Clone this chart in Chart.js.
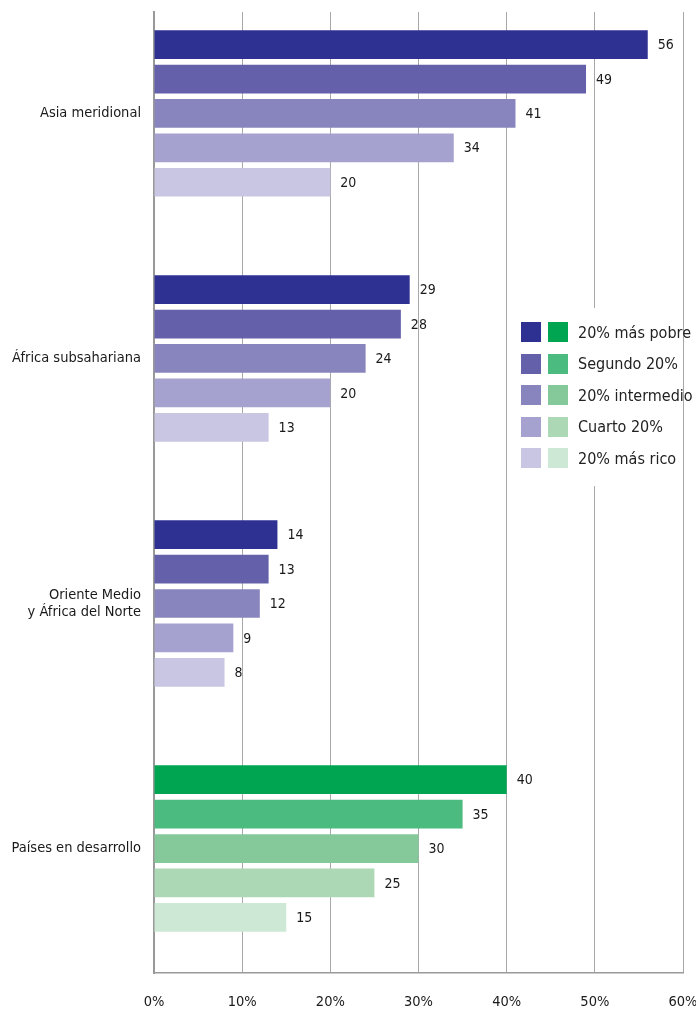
<!DOCTYPE html>
<html>
<head>
<meta charset="utf-8">
<script src="https://cdn.jsdelivr.net/npm/chart.js@4/dist/chart.umd.min.js"></script>
<style>
  body{margin:0;background:#fff;font-family:"Liberation Sans Narrow","DejaVu Sans Condensed",sans-serif;}
  .wrap{position:relative;width:696px;height:1010px;}
  canvas{display:block;}
  .legend{position:absolute;left:510px;top:308px;width:172px;height:178px;background:#fff;}
  .legend .row{position:absolute;left:11px;height:20px;display:flex;align-items:center;font-size:16px;color:#222;white-space:nowrap;}
  .legend .sw{width:20px;height:20px;margin-right:7px;}
  .legend .txt{margin-left:3px;}
</style>
</head>
<body>
<div class="wrap">
  <canvas id="chart" width="696" height="1010"></canvas>
  <div class="legend" id="legend"></div>
</div>
<script>
const categories = ["Asia meridional", "África subsahariana", ["Oriente Medio", "y África del Norte"], "Países en desarrollo"]
const quintiles = ["20% más pobre", "Segundo 20%", "20% intermedio", "Cuarto 20%", "20% más rico"]
const poorest = [56, 29, 14, 40]
const second = [49, 28, 13, 35]
const middle = [41, 24, 12, 30]
const fourth = [34, 20, 9, 25]
const richest = [20, 13, 8, 15]
const xTicks = [0, 10, 20, 30, 40, 50, 60]

const purples = ["#2e3192", "#6461aa", "#8884bd", "#a5a2d0", "#c8c6e3"]
const greens = ["#00a551", "#4bbb7f", "#85c99b", "#acd8b6", "#cde9d5"]
const series = [poorest, second, middle, fourth, richest]

const chart_index = {
    datasets:()=>{
        return series.map((values, s)=>({
            label: quintiles[s],
            data: values.map((v, i)=>({x: v, y: i})),
            backgroundColor: values.map((v, i)=> i === categories.length - 1 ? greens[s] : purples[s]),
            borderWidth: 0,
            categoryPercentage: 0.702,
            barPercentage: 0.835
        }))
    },
    valueLabels:{
        id: 'valueLabels',
        afterDatasetsDraw(chart){
            const ctx = chart.ctx
            ctx.save()
            ctx.font = '14px "Liberation Sans Narrow","DejaVu Sans Condensed",sans-serif'
            ctx.fillStyle = '#1a1a1a'
            ctx.textBaseline = 'middle'
            chart.data.datasets.forEach((ds, d)=>{
                chart.getDatasetMeta(d).data.forEach((bar, i)=>{
                    ctx.fillText(String(ds.data[i].x), bar.x + 10, bar.y + 1)
                })
            })
            ctx.restore()
        }
    },
    legend:()=>{
        const box = document.getElementById('legend')
        quintiles.forEach((q, i)=>{
            const row = document.createElement('div')
            row.className = 'row'
            row.style.top = (14 + i * 31.6) + 'px'
            row.innerHTML = '<span class="sw" style="background:' + purples[i] + '"></span>' +
                '<span class="sw" style="background:' + greens[i] + '"></span>' +
                '<span class="txt">' + q + '</span>'
            box.appendChild(row)
        })
    },
    init:()=>{
        const font = {family: '"Liberation Sans Narrow","DejaVu Sans Condensed",sans-serif', size: 14.5}
        new Chart(document.getElementById('chart'), {
            type: 'bar',
            data: {datasets: chart_index.datasets()},
            options: {
                indexAxis: 'y',
                responsive: false,
                animation: false,
                layout: {padding: {top: 12, right: 13, bottom: 0, left: 0}},
                plugins: {legend: {display: false}, tooltip: {enabled: false}},
                scales: {
                    x: {
                        type: 'linear', min: 0, max: 60,
                        afterBuildTicks: (axis)=>{ axis.ticks = xTicks.map(v=>({value: v})) },
                        afterFit: (axis)=>{ axis.height = 37; axis.paddingLeft = 0; axis.paddingRight = 0 },
                        grid: {color: '#a8a8a8', lineWidth: 1, drawTicks: false},
                        border: {color: '#999', width: 1.5},
                        ticks: {color: '#1a1a1a', font: font, padding: 21, maxRotation: 0, callback: (v)=> v + '%'}
                    },
                    y: {
                        type: 'linear', reverse: true, offset: false, min: -0.414, max: 3.508,
                        afterBuildTicks: (axis)=>{ axis.ticks = categories.map((c, i)=>({value: i})) },
                        afterFit: (axis)=>{ axis.width = 154; axis.paddingTop = 0; axis.paddingBottom = 0 },
                        grid: {display: false, drawTicks: false},
                        border: {color: '#999', width: 2},
                        ticks: {color: '#1a1a1a', font: font, padding: 13, autoSkip: false,
                            callback: (v)=> categories[v] === undefined ? '' : categories[v]}
                    }
                }
            },
            plugins: [chart_index.valueLabels]
        })
        chart_index.legend()
    }
}
chart_index.init()
</script>
</body>
</html>
